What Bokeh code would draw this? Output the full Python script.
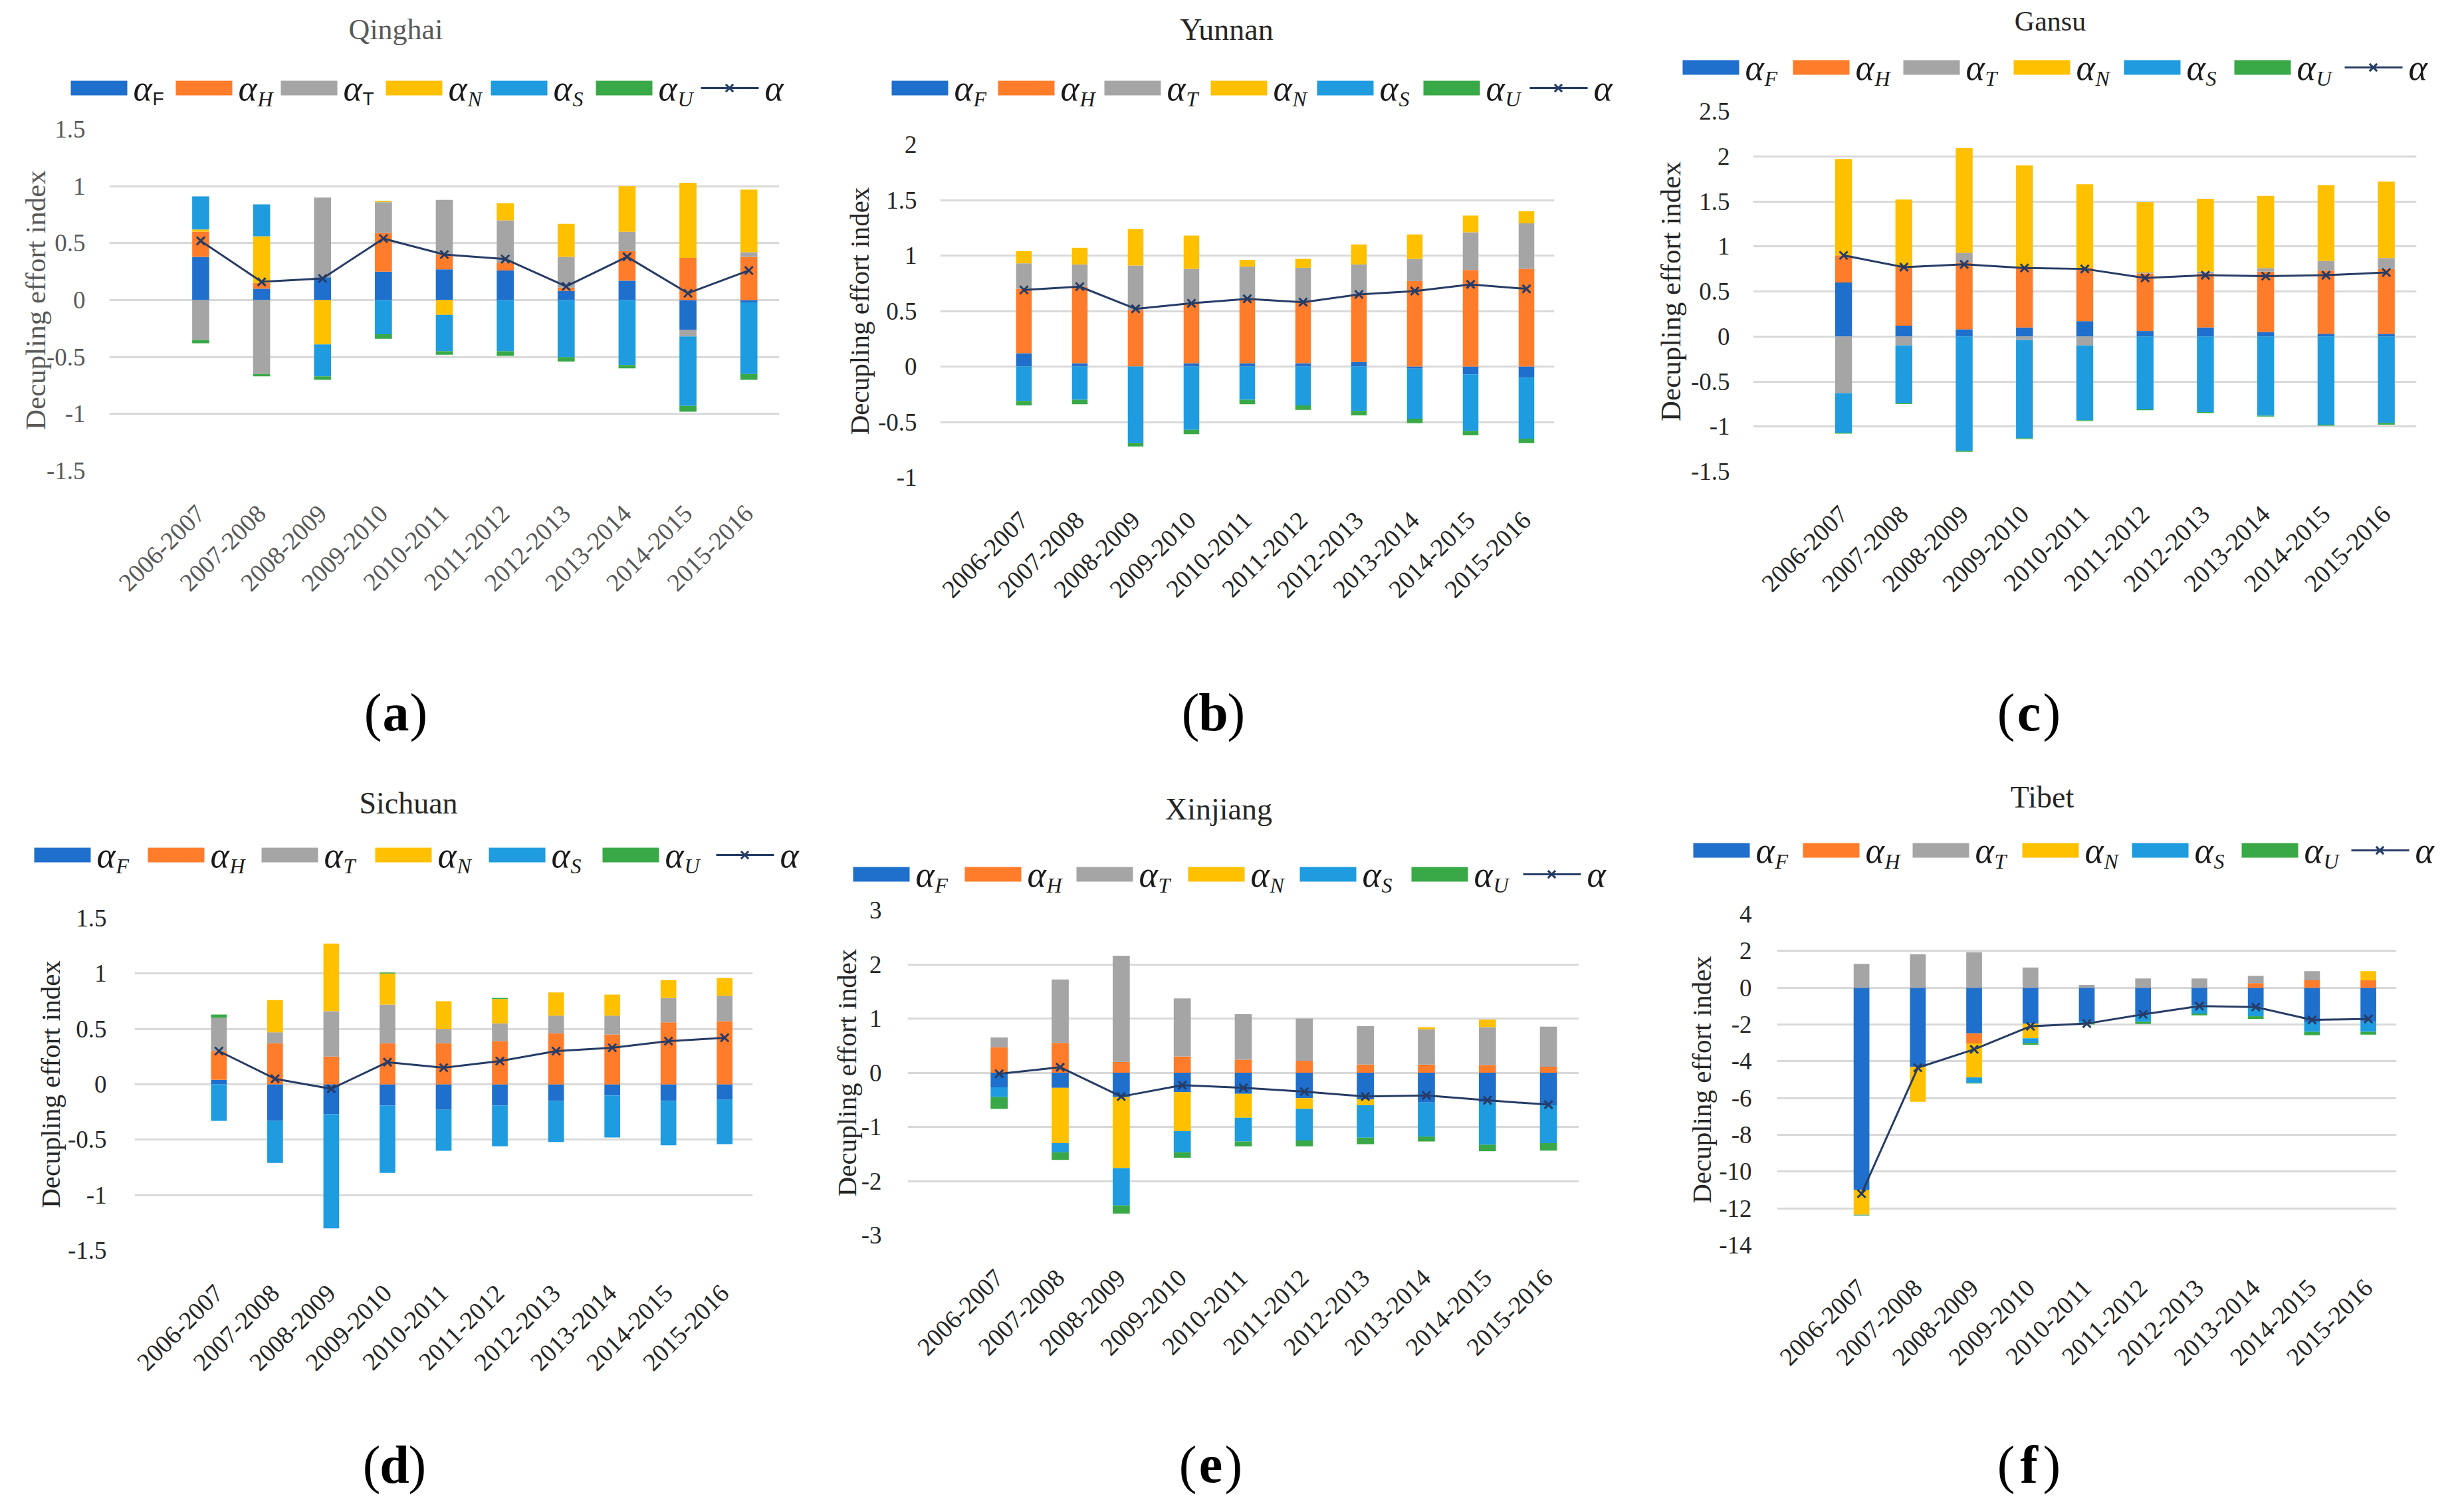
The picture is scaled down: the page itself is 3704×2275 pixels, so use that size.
import math
import numpy as np
from bokeh.plotting import figure
from bokeh.models import Range1d, FixedTicker, PrintfTickFormatter
from bokeh.layouts import column, row
from bokeh.embed import file_html
from bokeh.resources import INLINE
from bokeh.core.properties import value

# ---------------- data ----------------
periods = ["2006-2007", "2007-2008", "2008-2009", "2009-2010", "2010-2011",
           "2011-2012", "2012-2013", "2013-2014", "2014-2015", "2015-2016"]
series_keys = ["F", "H", "T", "N", "S", "U"]

# Qinghai
qh_F = [0.38, 0.10, 0.20, 0.25, 0.27, 0.26, 0.08, 0.17, -0.26, -0.02]
qh_H = [0.22, 0.05, 0.00, 0.34, 0.13, 0.07, 0.03, 0.26, 0.37, 0.38]
qh_T = [-0.35, -0.65, 0.70, 0.27, 0.48, 0.37, 0.27, 0.17, -0.06, 0.04]
qh_N = [0.02, 0.41, -0.39, 0.01, -0.13, 0.15, 0.29, 0.40, 0.66, 0.55]
qh_S = [0.29, 0.28, -0.28, -0.30, -0.32, -0.45, -0.50, -0.57, -0.61, -0.63]
qh_U = [-0.03, -0.02, -0.03, -0.04, -0.03, -0.04, -0.04, -0.03, -0.05, -0.05]
qh_A = [0.52, 0.16, 0.19, 0.54, 0.40, 0.36, 0.12, 0.38, 0.06, 0.26]

# Yunnan
yn_F = [0.12, 0.03, 0.00, 0.03, 0.03, 0.03, 0.04, -0.02, -0.07, -0.10]
yn_H = [0.58, 0.69, 0.51, 0.54, 0.58, 0.55, 0.61, 0.77, 0.87, 0.88]
yn_T = [0.23, 0.20, 0.40, 0.31, 0.29, 0.31, 0.27, 0.20, 0.34, 0.41]
yn_N = [0.11, 0.15, 0.33, 0.30, 0.06, 0.08, 0.18, 0.22, 0.15, 0.11]
yn_S = [-0.31, -0.30, -0.69, -0.57, -0.30, -0.35, -0.40, -0.45, -0.51, -0.55]
yn_U = [-0.04, -0.04, -0.03, -0.04, -0.04, -0.04, -0.04, -0.04, -0.04, -0.04]
yn_A = [0.69, 0.72, 0.52, 0.57, 0.61, 0.58, 0.65, 0.68, 0.74, 0.70]

# Gansu
gs_F = [0.60, 0.12, 0.08, 0.10, 0.17, 0.06, 0.10, 0.05, 0.03, 0.03]
gs_H = [0.30, 0.65, 0.74, 0.66, 0.59, 0.64, 0.60, 0.67, 0.70, 0.72]
gs_T = [-0.63, -0.10, 0.11, -0.04, -0.10, 0.01, 0.02, 0.04, 0.11, 0.12]
gs_N = [1.07, 0.75, 1.16, 1.14, 0.93, 0.78, 0.81, 0.80, 0.84, 0.85]
gs_S = [-0.44, -0.64, -1.27, -1.09, -0.83, -0.81, -0.84, -0.88, -0.98, -0.96]
gs_U = [-0.01, -0.01, -0.01, -0.01, -0.01, -0.01, -0.01, -0.01, -0.01, -0.02]
gs_A = [0.90, 0.77, 0.80, 0.76, 0.75, 0.65, 0.68, 0.67, 0.68, 0.71]

# Sichuan
sc_F = [0.04, -0.33, -0.27, -0.19, -0.23, -0.19, -0.15, -0.10, -0.15, -0.14]
sc_H = [0.26, 0.37, 0.25, 0.37, 0.37, 0.39, 0.46, 0.45, 0.56, 0.57]
sc_T = [0.30, 0.10, 0.41, 0.35, 0.13, 0.16, 0.16, 0.17, 0.22, 0.23]
sc_N = [0.00, 0.29, 0.61, 0.28, 0.25, 0.22, 0.21, 0.19, 0.16, 0.16]
sc_S = [-0.33, -0.38, -1.03, -0.61, -0.37, -0.37, -0.37, -0.38, -0.40, -0.40]
sc_U = [0.03, 0.00, 0.00, 0.01, 0.00, 0.01, 0.00, 0.00, 0.00, 0.00]
sc_A = [0.30, 0.05, -0.04, 0.20, 0.15, 0.21, 0.30, 0.33, 0.39, 0.42]

# Xinjiang
xj_F = [-0.27, -0.28, -0.45, -0.36, -0.39, -0.47, -0.49, -0.55, -0.55, -0.60]
xj_H = [0.47, 0.55, 0.20, 0.30, 0.24, 0.22, 0.15, 0.15, 0.14, 0.11]
xj_T = [0.18, 1.17, 1.96, 1.07, 0.84, 0.78, 0.71, 0.65, 0.70, 0.74]
xj_N = [0.00, -1.02, -1.31, -0.72, -0.44, -0.20, -0.11, 0.04, 0.14, 0.00]
xj_S = [-0.18, -0.17, -0.69, -0.39, -0.44, -0.58, -0.60, -0.63, -0.78, -0.70]
xj_U = [-0.22, -0.14, -0.15, -0.10, -0.09, -0.11, -0.12, -0.09, -0.12, -0.14]
xj_A = [-0.02, 0.10, -0.44, -0.23, -0.28, -0.35, -0.44, -0.42, -0.51, -0.59]

# Tibet
tb_F = [-11.00, -4.30, -2.48, -1.95, -1.80, -1.45, -0.95, -1.05, -1.87, -1.85]
tb_H = [0.00, 0.00, -0.55, 0.00, 0.00, 0.00, 0.00, 0.25, 0.40, 0.40]
tb_T = [1.30, 1.82, 1.93, 1.10, 0.15, 0.50, 0.50, 0.40, 0.50, 0.00]
tb_N = [-1.35, -1.90, -1.85, -0.80, 0.00, 0.00, 0.00, 0.00, 0.00, 0.50]
tb_S = [-0.02, 0.00, -0.30, -0.25, -0.12, -0.40, -0.45, -0.50, -0.53, -0.55]
tb_U = [-0.03, 0.00, -0.03, -0.10, -0.08, -0.12, -0.10, -0.15, -0.18, -0.15]
tb_A = [-11.20, -4.35, -3.35, -2.10, -1.95, -1.45, -1.00, -1.05, -1.75, -1.70]

# tick values
qh_ticks = [-1.5, -1, -0.5, 0, 0.5, 1, 1.5]
yn_ticks = [-1, -0.5, 0, 0.5, 1, 1.5, 2]
gs_ticks = [-1.5, -1, -0.5, 0, 0.5, 1, 1.5, 2, 2.5]
sc_ticks = [-1.5, -1, -0.5, 0, 0.5, 1, 1.5]
xj_ticks = [-3, -2, -1, 0, 1, 2, 3]
tb_ticks = [-14, -12, -10, -8, -6, -4, -2, 0, 2, 4]

# ---------------- styles ----------------
COLORS = {"F": "#1F6FCC", "H": "#FF7C2B", "T": "#A5A5A5",
          "N": "#FFC000", "S": "#1E9CDF", "U": "#38A946"}
NAVY = "#263C66"
FONT = "Liberation Serif"
GRID = "#D9D9D9"

panels = [
    dict(name="Qinghai", letter="a", W=1227, H=1122, frame=(164, 1172, 194, 708),
         series=(qh_F, qh_H, qh_T, qh_N, qh_S, qh_U), alpha=qh_A, ticks=qh_ticks,
         title_xy=(595, 44), title_size=44, legend=(106, 132, 158), cap_x=595, cap_y=1071,
         tick_standoff=36, label_standoff=-10, label_size=43, upright={"F", "T"}, grey=True),
    dict(name="Yunnan", letter="b", W=1235, H=1122, frame=(187, 1111, 217, 718),
         series=(yn_F, yn_H, yn_T, yn_N, yn_S, yn_U), alpha=yn_A, ticks=yn_ticks,
         title_xy=(618, 44), title_size=46, legend=(114, 132, 160), cap_x=598, cap_y=1071,
         tick_standoff=35, label_standoff=2, label_size=41, upright=set(), grey=False),
    dict(name="Gansu", letter="c", W=1226, H=1122, frame=(175, 1173, 167, 709),
         series=(gs_F, gs_H, gs_T, gs_N, gs_S, gs_U), alpha=gs_A, ticks=gs_ticks,
         title_xy=(622, 31), title_size=42, legend=(69, 101, 166), cap_x=590, cap_y=1071,
         tick_standoff=35, label_standoff=4, label_size=43, upright=set(), grey=False),
    dict(name="Sichuan", letter="d", W=1227, H=1137, frame=(202, 1132, 259, 759),
         series=(sc_F, sc_H, sc_T, sc_N, sc_S, sc_U), alpha=sc_A, ticks=sc_ticks,
         title_xy=(614, 86), title_size=46, legend=(51, 164, 171), cap_x=593, cap_y=1081,
         tick_standoff=42, label_standoff=0, label_size=41, upright=set(), grey=False),
    dict(name="Xinjiang", letter="e", W=1235, H=1137, frame=(138, 1148, 247, 736),
         series=(xj_F, xj_H, xj_T, xj_N, xj_S, xj_U), alpha=xj_A, ticks=xj_ticks,
         title_xy=(606, 95), title_size=46, legend=(56, 193, 168), cap_x=594, cap_y=1081,
         tick_standoff=39, label_standoff=-4, label_size=41, upright=set(), grey=False),
    dict(name="Tibet", letter="f", W=1226, H=1137, frame=(211, 1143, 253, 751),
         series=(tb_F, tb_H, tb_T, tb_N, tb_S, tb_U), alpha=tb_A, ticks=tb_ticks,
         title_xy=(610, 77), title_size=46, legend=(85, 157, 165), cap_x=590, cap_y=1081,
         tick_standoff=38, label_standoff=0, label_size=41, upright=set(), grey=False),
]

TOP_PAD = 20
CAP_H = 150


def blank_fig(W, H):
    p = figure(width=W, height=H, x_range=Range1d(0, W), y_range=Range1d(H, 0),
               x_axis_type=None, y_axis_type=None, output_backend="svg", title=None,
               toolbar_location=None, min_border=0, outline_line_color=None,
               frame_align=False)
    p.background_fill_color = "white"
    p.border_fill_color = "white"
    return p


def stack(series):
    pos = np.zeros(len(periods))
    neg = np.zeros(len(periods))
    out = []
    for vals in series:
        v = np.asarray(vals, dtype=float)
        base = np.where(v >= 0, pos, neg)
        top = base + v
        pos = np.where(v >= 0, top, pos)
        neg = np.where(v < 0, top, neg)
        out.append((base, top))
    return out


def make_panel(cfg):
    W, H = cfg["W"], cfg["H"]
    fl, fr, ft, fb = cfg["frame"]
    text_col = "#595959" if cfg["grey"] else "#262626"

    # ---- header: title + legend ----
    hh = ft - TOP_PAD
    hd = blank_fig(W, hh)
    tx, ty = cfg["title_xy"]
    hd.text(x=[tx], y=[ty], text=[cfg["name"]], text_font=value(FONT),
            text_font_size=value(f'{cfg["title_size"]}px'), text_align="center",
            text_baseline="middle", text_color=text_col)
    x0, yc, pitch = cfg["legend"]
    sw = 85
    lefts = [x0 + k * pitch for k in range(6)]
    hd.quad(left=lefts, right=[l + sw for l in lefts], top=[yc - 11] * 6, bottom=[yc + 11] * 6,
            fill_color=[COLORS[s] for s in series_keys], line_color=None)
    hd.text(x=[l + sw + 9 for l in lefts], y=[yc] * 6, text=["α"] * 6, text_font=value(FONT),
            text_font_size=value("54px"), text_font_style="italic", text_align="left",
            text_baseline="middle", text_color="#1a1a1a")
    for k, s in enumerate(series_keys):
        up = s in cfg["upright"]
        hd.text(x=[lefts[k] + sw + 38], y=[yc + 16], text=[s],
                text_font=value("Liberation Sans" if up else FONT),
                text_font_size=value("28px" if up else "32px"),
                text_font_style="normal" if up else "italic",
                text_align="left", text_baseline="middle", text_color="#1a1a1a")
    lx = x0 + 6 * pitch
    hd.line(x=[lx, lx + 87], y=[yc, yc], line_color=NAVY, line_width=3)
    hd.scatter(x=[lx + 43], y=[yc], marker="x", size=16, line_color=NAVY, line_width=3)
    hd.text(x=[lx + 96], y=[yc], text=["α"], text_font=value(FONT),
            text_font_size=value("54px"), text_font_style="italic", text_align="left",
            text_baseline="middle", text_color="#1a1a1a")

    # ---- chart ----
    cap_top = H - CAP_H
    ch_h = cap_top - hh
    ticks = cfg["ticks"]
    p = figure(width=W, height=ch_h, x_range=Range1d(-1.5, 9.5),
               y_range=Range1d(ticks[0], ticks[-1]), output_backend="svg", title=None,
               toolbar_location=None, min_border_left=fl, min_border_right=W - fr,
               min_border_top=TOP_PAD, min_border_bottom=cap_top - fb,
               outline_line_color=None, frame_align=False)
    p.background_fill_color = "white"
    p.border_fill_color = "white"
    p.xgrid.visible = False
    p.ygrid.grid_line_color = GRID
    p.ygrid.grid_line_width = 3

    xs = list(range(len(periods)))
    for s, (b, t) in zip(series_keys, stack(cfg["series"])):
        p.vbar(x=xs, width=0.28, bottom=b, top=t, fill_color=COLORS[s], line_color=None)
    p.line(xs, cfg["alpha"], line_color=NAVY, line_width=3)
    p.scatter(xs, cfg["alpha"], marker="x", size=17, line_color=NAVY, line_width=3)

    xa = p.xaxis[0]
    xa.ticker = FixedTicker(ticks=xs)
    xa.major_label_overrides = {i: periods[i] for i in xs}
    xa.major_label_orientation = math.pi / 4
    xa.axis_line_color = None
    xa.major_tick_line_color = None
    xa.minor_tick_line_color = None
    xa.major_tick_out = 0
    xa.major_label_standoff = 58
    xa.major_label_text_font = FONT
    xa.major_label_text_font_size = "38px"
    xa.major_label_text_color = text_col

    ya = p.yaxis[0]
    ya.ticker = FixedTicker(ticks=ticks)
    ya.formatter = PrintfTickFormatter(format="%g")
    ya.axis_line_color = None
    ya.major_tick_line_color = None
    ya.minor_tick_line_color = None
    ya.major_tick_out = 0
    ya.major_label_standoff = cfg["tick_standoff"]
    ya.major_label_text_font = FONT
    ya.major_label_text_font_size = "37px"
    ya.major_label_text_color = text_col
    ya.axis_label = "Decupling effort index"
    ya.axis_label_text_font = FONT
    ya.axis_label_text_font_size = f'{cfg["label_size"]}px'
    ya.axis_label_text_font_style = "normal"
    ya.axis_label_text_color = text_col
    ya.axis_label_standoff = cfg["label_standoff"]

    # ---- caption ----
    cp = blank_fig(W, CAP_H)
    cx = cfg["cap_x"]
    cy = cfg["cap_y"] - cap_top
    cp.text(x=[cx - 21], y=[cy], text=["("], text_font=value(FONT), text_font_size=value("80px"),
            text_align="right", text_baseline="middle", text_color="black")
    cp.text(x=[cx], y=[cy], text=[cfg["letter"]], text_font=value(FONT),
            text_font_size=value("80px"), text_font_style="bold", text_align="center",
            text_baseline="middle", text_color="black")
    cp.text(x=[cx + 21], y=[cy], text=[")"], text_font=value(FONT), text_font_size=value("80px"),
            text_align="left", text_baseline="middle", text_color="black")

    return column(hd, p, cp, spacing=0)


cols = [make_panel(c) for c in panels]
layout = column(row(cols[0], cols[1], cols[2], spacing=0),
                row(cols[3], cols[4], cols[5], spacing=0), spacing=0)

open("out.html", "w").write(file_html(layout, INLINE))
